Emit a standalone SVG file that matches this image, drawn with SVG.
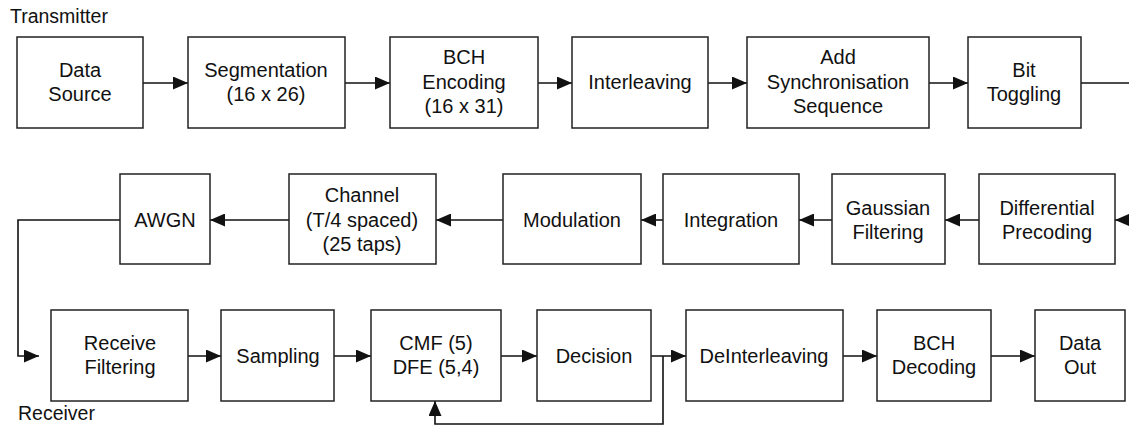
<svg xmlns="http://www.w3.org/2000/svg" width="1129" height="427" viewBox="0 0 1129 427">
<defs>
<style>
.box{fill:#fff;stroke:#222;stroke-width:1.5}
.t{font-family:"Liberation Sans",Arial,sans-serif;font-size:20px;fill:#111;text-anchor:middle}
.lbl{font-family:"Liberation Sans",Arial,sans-serif;font-size:19.5px;fill:#111}
.c{fill:none;stroke:#111;stroke-width:1.6}
</style>
<marker id="ah" viewBox="0 0 15 13" refX="15" refY="6.5" markerWidth="15" markerHeight="13" markerUnits="userSpaceOnUse" orient="auto">
<path d="M0,0 L15,6.5 L0,13 Z" fill="#111"/>
</marker>
</defs>
<rect width="1129" height="427" fill="#fff"/>
<text class="lbl" x="10" y="23">Transmitter</text>
<text class="lbl" x="18" y="420">Receiver</text>

<g id="connectors">
<path class="c" d="M143,83 H188" marker-end="url(#ah)"/>
<path class="c" d="M345,83 H390" marker-end="url(#ah)"/>
<path class="c" d="M538,83 H572" marker-end="url(#ah)"/>
<path class="c" d="M708,83 H747" marker-end="url(#ah)"/>
<path class="c" d="M929,83 H968" marker-end="url(#ah)"/>
<path class="c" d="M1081,83 H1129"/>
<path class="c" d="M1129,220 H1115" marker-end="url(#ah)"/>
<path class="c" d="M979,220 H945" marker-end="url(#ah)"/>
<path class="c" d="M832,220 H799" marker-end="url(#ah)"/>
<path class="c" d="M663,220 H641" marker-end="url(#ah)"/>
<path class="c" d="M503,220 H436" marker-end="url(#ah)"/>
<path class="c" d="M289,220 H210" marker-end="url(#ah)"/>
<path class="c" d="M120,220 H18 V356 H39" marker-end="url(#ah)"/>
<path class="c" d="M188,356 H221" marker-end="url(#ah)"/>
<path class="c" d="M334,356 H371" marker-end="url(#ah)"/>
<path class="c" d="M501,356 H537" marker-end="url(#ah)"/>
<path class="c" d="M651,356 H686" marker-end="url(#ah)"/>
<path class="c" d="M663,356 V424 H435 V401" marker-end="url(#ah)"/>
<path class="c" d="M843,356 H877" marker-end="url(#ah)"/>
<path class="c" d="M991,356 H1035" marker-end="url(#ah)"/>
</g>

<g id="data-source"><rect class="box" x="17" y="37" width="126" height="91"/><text class="t" x="80" y="77">Data</text><text class="t" x="80" y="101">Source</text></g>
<g id="segmentation"><rect class="box" x="188" y="37" width="157" height="91"/><text class="t" x="266" y="77">Segmentation</text><text class="t" x="266" y="101">(16 x 26)</text></g>
<g id="bch-encoding"><rect class="box" x="390" y="37" width="148" height="91"/><text class="t" x="464" y="64">BCH</text><text class="t" x="464" y="89">Encoding</text><text class="t" x="464" y="113">(16 x 31)</text></g>
<g id="interleaving"><rect class="box" x="572" y="37" width="136" height="91"/><text class="t" x="640" y="89">Interleaving</text></g>
<g id="add-sync"><rect class="box" x="747" y="37" width="182" height="91"/><text class="t" x="838" y="64">Add</text><text class="t" x="838" y="89">Synchronisation</text><text class="t" x="838" y="113">Sequence</text></g>
<g id="bit-toggling"><rect class="box" x="968" y="37" width="113" height="91"/><text class="t" x="1024" y="77">Bit</text><text class="t" x="1024" y="101">Toggling</text></g>

<g id="awgn"><rect class="box" x="120" y="174" width="90" height="90"/><text class="t" x="165" y="227">AWGN</text></g>
<g id="channel"><rect class="box" x="289" y="174" width="147" height="90"/><text class="t" x="362" y="202">Channel</text><text class="t" x="362" y="227">(T/4 spaced)</text><text class="t" x="362" y="251">(25 taps)</text></g>
<g id="modulation"><rect class="box" x="503" y="174" width="138" height="90"/><text class="t" x="572" y="227">Modulation</text></g>
<g id="integration"><rect class="box" x="663" y="174" width="136" height="90"/><text class="t" x="731" y="227">Integration</text></g>
<g id="gaussian"><rect class="box" x="832" y="174" width="113" height="90"/><text class="t" x="888" y="215">Gaussian</text><text class="t" x="888" y="239">Filtering</text></g>
<g id="differential"><rect class="box" x="979" y="174" width="136" height="90"/><text class="t" x="1047" y="215">Differential</text><text class="t" x="1047" y="239">Precoding</text></g>

<g id="receive-filtering"><rect class="box" x="51" y="310" width="137" height="91"/><text class="t" x="120" y="350">Receive</text><text class="t" x="120" y="374">Filtering</text></g>
<g id="sampling"><rect class="box" x="221" y="310" width="113" height="91"/><text class="t" x="278" y="363">Sampling</text></g>
<g id="cmf-dfe"><rect class="box" x="371" y="310" width="130" height="91"/><text class="t" x="436" y="350">CMF (5)</text><text class="t" x="436" y="374">DFE (5,4)</text></g>
<g id="decision"><rect class="box" x="537" y="310" width="114" height="91"/><text class="t" x="594" y="363">Decision</text></g>
<g id="deinterleaving"><rect class="box" x="686" y="310" width="157" height="91"/><text class="t" x="764" y="363">DeInterleaving</text></g>
<g id="bch-decoding"><rect class="box" x="877" y="310" width="114" height="91"/><text class="t" x="934" y="350">BCH</text><text class="t" x="934" y="374">Decoding</text></g>
<g id="data-out"><rect class="box" x="1035" y="310" width="90" height="91"/><text class="t" x="1080" y="350">Data</text><text class="t" x="1080" y="374">Out</text></g>
</svg>
